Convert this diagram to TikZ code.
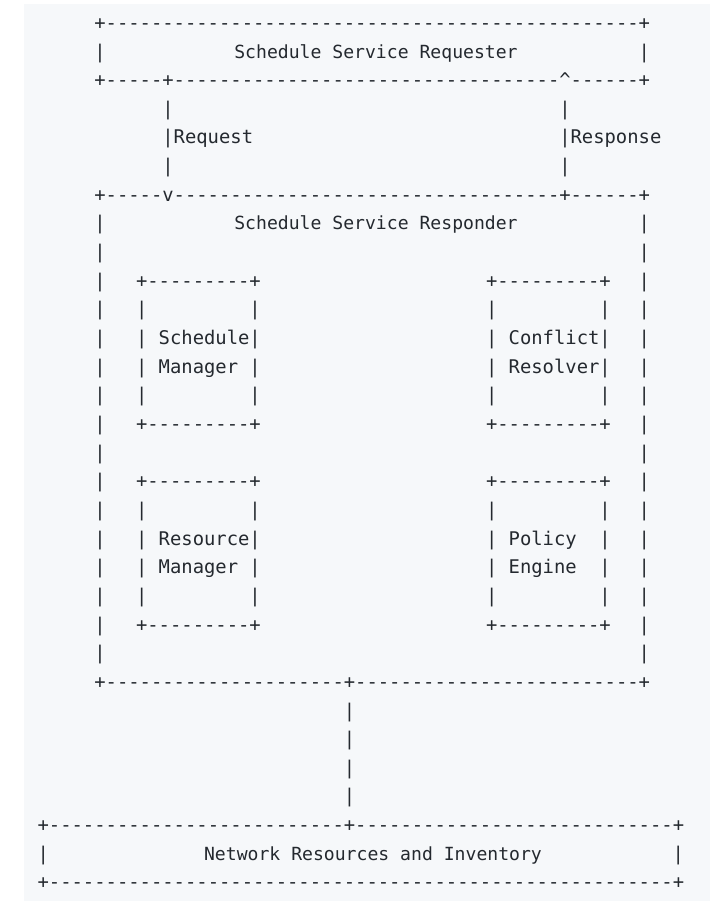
\documentclass[tikz,border=0pt]{standalone}
\usepackage{fontspec}
\setmonofont{DejaVu Sans Mono}
\definecolor{ink}{HTML}{24292F}
\definecolor{paper}{HTML}{F6F8FA}
\ExplSyntaxOn
\cs_new:Npn \asciiDsh #1 { \prg_replicate:nn {#1} {-} }
\cs_new:Npn \asciiSpc #1 { \prg_replicate:nn {#1} {\nobreakspace} }
\ExplSyntaxOff
\newcommand\boxf{\ttfamily\fontsize{18.84}{20}\selectfont}
\newcommand\wordf{\ttfamily\fontsize{18.1}{20}\selectfont}
% A: ascii string whose first character sits in column #2 of row #3
\newcommand\A[4]{\node[ascii] (#1) at ({37.63+11.34*(#2)},{29.4+28.65*(#3)}) {#4};}
% T: title centred at x=#2 on row #3
\newcommand\T[4]{\node[title] (#1) at (#2,{29.4+28.65*(#3)}) {#4};}
\begin{document}
\begin{tikzpicture}[x=1pt,y=-1pt,
  ascii/.style={anchor=base west,inner sep=0pt,outer sep=0pt,font=\boxf,text=ink},
  title/.style={anchor=base,inner sep=0pt,outer sep=0pt,font=\wordf,text=ink}]
\useasboundingbox (0,0) rectangle (714,901);
\fill[paper] (24,4) rectangle (710,901);
% Schedule Service Requester
\A{r0}{5}{0}{+\asciiDsh{47}+}
\A{r1l}{5}{1}{|}\A{r1r}{53}{1}{|}
\T{req}{376}{1}{Schedule Service Requester}
\A{r2}{5}{2}{+\asciiDsh{5}+\asciiDsh{34}\textasciicircum\asciiDsh{6}+}
% request / response
\A{r3l}{11}{3}{|}\A{r3r}{46}{3}{|}
\A{r4l}{11}{4}{|Request}\A{r4r}{46}{4}{|Response}
\A{r5l}{11}{5}{|}\A{r5r}{46}{5}{|}
% Schedule Service Responder
\A{r6}{5}{6}{+\asciiDsh{5}v\asciiDsh{34}+\asciiDsh{6}+}
\foreach \r in {7,...,22}{\A{bl\r}{5}{\r}{|}\A{br\r}{53}{\r}{|}}
\T{resp}{376}{7}{Schedule Service Responder}
% inner boxes
\foreach \r in {9,14,16,21}{\A{il\r}{8.68}{\r}{+\asciiDsh{9}+}\A{ir\r}{39.54}{\r}{+\asciiDsh{9}+}}
\foreach \r in {10,13,17,20}{\A{il\r}{8.68}{\r}{|\asciiSpc{9}|}\A{ir\r}{39.54}{\r}{|\asciiSpc{9}|}}
\A{il11}{8.68}{11}{|\asciiSpc{1}Schedule|}
\A{ir11}{39.54}{11}{|\asciiSpc{1}Conflict|}
\A{il12}{8.68}{12}{|\asciiSpc{1}Manager\asciiSpc{1}|}
\A{ir12}{39.54}{12}{|\asciiSpc{1}Resolver|}
\A{il18}{8.68}{18}{|\asciiSpc{1}Resource|}
\A{ir18}{39.54}{18}{|\asciiSpc{1}Policy\asciiSpc{2}|}
\A{il19}{8.68}{19}{|\asciiSpc{1}Manager\asciiSpc{1}|}
\A{ir19}{39.54}{19}{|\asciiSpc{1}Engine\asciiSpc{2}|}
\A{r23}{5}{23}{+\asciiDsh{21}+\asciiDsh{25}+}
% link down
\foreach \r in {24,...,27}{\A{v\r}{27}{\r}{|}}
% Network Resources and Inventory
\A{r28}{0}{28}{+\asciiDsh{26}+\asciiDsh{28}+}
\A{r29l}{0}{29}{|}\A{r29r}{56}{29}{|}
\T{net}{373}{29}{Network Resources and Inventory}
\A{r30}{0}{30}{+\asciiDsh{55}+}
\end{tikzpicture}
\end{document}
